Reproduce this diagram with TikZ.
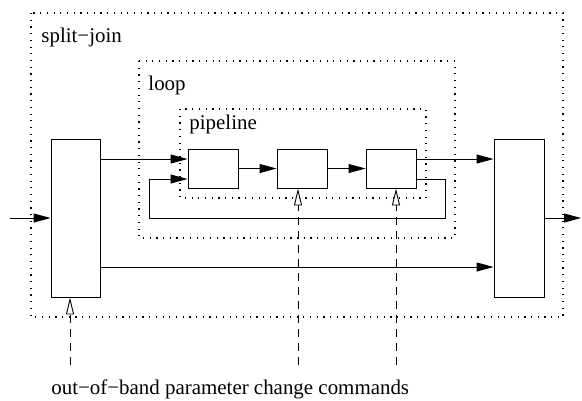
\documentclass[tikz,border=0pt]{standalone}
\usepackage{fontspec}
\setmainfont{Liberation Serif}
\usetikzlibrary{arrows.meta}
\begin{document}
\begin{tikzpicture}[x=1bp,y=-1bp,
  line width=0.9bp,
  box/.style={draw, rectangle, inner sep=0pt},
  arr/.style={-{Triangle[length=17bp,width=9bp]}},
  ctl/.style={dash pattern=on 8bp off 6bp, -{Triangle[open,length=17bp,width=8bp]}},
  frame/.style={line width=1.2bp, dash pattern=on 1.2bp off 5.5bp},
  lbl/.style={anchor=base west, inner sep=0pt, font=\fontsize{21}{25}\selectfont}]
\useasboundingbox (0,0) rectangle (582,400);

% nested composite frames
\draw[frame] (31,13) rectangle (563,317);
\draw[frame] (139,61) rectangle (455,238);
\draw[frame] (180,109) rectangle (426,198);
\node[lbl] (lsj) at (41,42) {split−join};
\node[lbl] (llp) at (148,90) {loop};
\node[lbl] (lpl) at (189,129) {pipeline};

% filters
\node[box, minimum width=49bp, minimum height=158bp] (split) at (75.5,218) {};
\node[box, minimum width=50bp, minimum height=158bp] (join) at (519,218) {};
\node[box, minimum width=50bp, minimum height=39bp] (f1) at (213,168.5) {};
\node[box, minimum width=50bp, minimum height=39bp] (f2) at (302,168.5) {};
\node[box, minimum width=50bp, minimum height=39bp] (f3) at (391,168.5) {};

% stream connections
\coordinate (in) at (10,218);
\coordinate (out) at (581,218);
\draw[arr] (in) -- (split.west);
\draw[arr] (split.east |- 0,159) -- (f1.west |- 0,159);
\draw[arr] (f1) -- (f2);
\draw[arr] (f2) -- (f3);
\draw[arr] (f3.east |- 0,159) -- (join.west |- 0,159);
\draw[arr] (f3.east |- 0,179) -- (445,179) -- (445,218) -- (149,218) -- (149,179) -- (f1.west |- 0,179);
\draw[arr] (split.east |- 0,267) -- (join.west |- 0,267);
\draw[arr] (join.east) -- (out);

% out-of-band control messages
\coordinate (c1) at (70,365);
\coordinate (c2) at (298,365);
\coordinate (c3) at (396,365);
\draw[ctl] (c1) -- (c1 |- split.south);
\draw[ctl] (c2) -- (c2 |- f2.south);
\draw[ctl] (c3) -- (c3 |- f3.south);
\node[lbl] (cmd) at (51,394) {out−of−band parameter change commands};
\end{tikzpicture}
\end{document}
